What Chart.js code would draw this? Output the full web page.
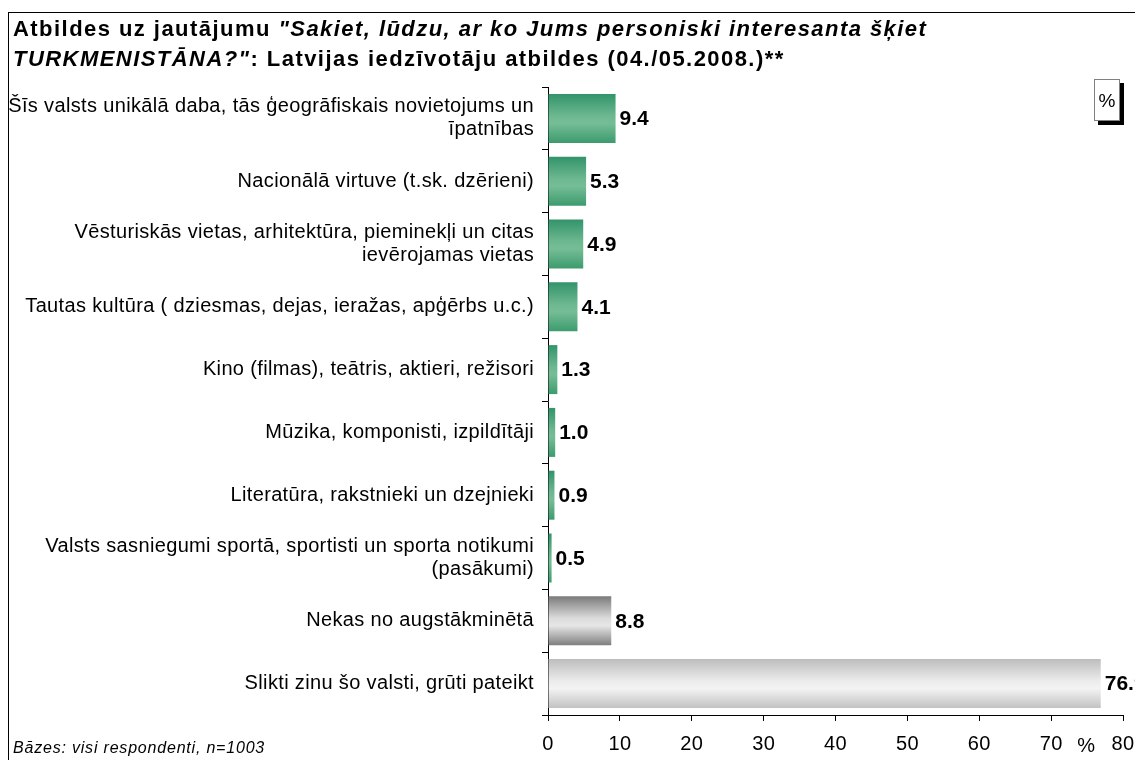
<!DOCTYPE html>
<html><head><meta charset="utf-8">
<script src="https://cdn.jsdelivr.net/npm/chart.js@4/dist/chart.umd.min.js"></script>
<style>
html,body{margin:0;padding:0;background:#fff;}
#wrap{position:relative;width:1135px;height:760px;overflow:hidden;font-family:"Liberation Sans",Arial,sans-serif;}
#frame{position:absolute;left:8px;top:12px;width:1200px;height:800px;border-left:1px solid #000;border-top:1px solid #000;}
#title{position:absolute;left:13px;top:14px;font-size:22px;font-weight:bold;line-height:30px;color:#000;letter-spacing:1.45px;white-space:nowrap;}
#foot{position:absolute;left:13px;top:739px;font-size:16px;font-style:italic;color:#000;letter-spacing:0.8px;}
#pbox{position:absolute;left:1094px;top:79px;width:24px;height:40px;border:1px solid #808080;background:#fff;box-shadow:4px 4px 0 #000;font-size:19px;text-align:center;line-height:42px;}
canvas{position:absolute;left:0;top:0;}
</style></head>
<body><div id="wrap">
<div id="frame"></div>
<canvas id="c" width="1135" height="760"></canvas>
<div id="title">Atbildes uz jautājumu <i>"Sakiet, lūdzu, ar ko Jums personiski interesanta šķiet</i><br><i>TURKMENISTĀNA?"</i>: Latvijas iedzīvotāju atbildes (04./05.2008.)**</div>
<div id="foot">Bāzes: visi respondenti, n=1003</div>
<div id="pbox">%</div>
</div>
<script>
const categories = [
  ["Šīs valsts unikālā daba, tās ģeogrāfiskais novietojums un", "īpatnības"],
  "Nacionālā virtuve (t.sk. dzērieni)",
  ["Vēsturiskās vietas, arhitektūra, pieminekļi un citas", "ievērojamas vietas"],
  "Tautas kultūra ( dziesmas, dejas, ieražas, apģērbs u.c.)",
  "Kino (filmas), teātris, aktieri, režisori",
  "Mūzika, komponisti, izpildītāji",
  "Literatūra, rakstnieki un dzejnieki",
  ["Valsts sasniegumi sportā, sportisti un sporta notikumi", "(pasākumi)"],
  "Nekas no augstākminētā",
  "Slikti zinu šo valsti, grūti pateikt"
];
const values = [9.4, 5.3, 4.9, 4.1, 1.3, 1.0, 0.9, 0.5, 8.8, 76.9];
const barKinds = ["green","green","green","green","green","green","green","green","gray","light"];
const xTicks = [0,10,20,30,40,50,60,70,80];

const palettes = {
  green: ["#32936a", "#6db890", "#76bd96", "#3c9b6e"],
  gray:  ["#7a7a7a", "#dcdcdc", "#e6e6e6", "#7e7e7e"],
  light: ["#bdbdbd", "#ececec", "#f3f3f3", "#c2c2c2"]
};
const BAR_FRAC = 0.78;
const FONT = '"Liberation Sans", Arial, sans-serif';
const LS = '0.35px';

function barFill(ctx) {
  const chart = ctx.chart;
  const ys = chart.scales && chart.scales.y;
  const p = palettes[barKinds[ctx.dataIndex]];
  if (!ys || !chart.chartArea) return p[1];
  const c = ys.getPixelForValue(ctx.dataIndex);
  const h = (chart.chartArea.bottom - chart.chartArea.top) / categories.length * BAR_FRAC;
  const g = chart.ctx.createLinearGradient(0, c - h/2, 0, c + h/2);
  g.addColorStop(0, p[0]);
  g.addColorStop(0.45, p[1]);
  g.addColorStop(0.6, p[2]);
  g.addColorStop(1, p[3]);
  return g;
}

const spacingPlugin = {
  id: 'spacing',
  beforeUpdate(chart) { chart.ctx.letterSpacing = LS; },
  beforeLayout(chart) { chart.ctx.letterSpacing = LS; },
  beforeDraw(chart) { chart.ctx.letterSpacing = LS; }
};

const labelPlugin = {
  id: 'vlabels',
  afterDatasetsDraw(chart) {
    const ctx = chart.ctx;
    const meta = chart.getDatasetMeta(0);
    ctx.save();
    ctx.letterSpacing = '0px';
    ctx.font = 'bold 21px ' + FONT;
    ctx.fillStyle = '#000';
    ctx.textBaseline = 'middle';
    ctx.textAlign = 'left';
    meta.data.forEach((el, i) => {
      ctx.fillText(values[i].toFixed(1), el.x + 4, el.y + 1);
    });
    const xs = chart.scales.x;
    ctx.font = '20px ' + FONT;
    ctx.textAlign = 'center';
    ctx.fillText('%', (xs.getPixelForValue(70) + xs.getPixelForValue(80)) / 2 - 1, 746);
    ctx.restore();
  }
};

new Chart(document.getElementById('c'), {
  type: 'bar',
  data: {
    labels: categories,
    datasets: [{
      data: values,
      backgroundColor: barFill,
      borderWidth: 0,
      barPercentage: BAR_FRAC,
      categoryPercentage: 1.0
    }]
  },
  options: {
    indexAxis: 'y',
    responsive: false,
    animation: false,
    events: [],
    layout: { padding: { top: 87, right: 12, bottom: 0, left: 0 } },
    plugins: { legend: { display: false }, tooltip: { enabled: false }, title: { display: false } },
    scales: {
      x: {
        min: 0, max: 80,
        afterBuildTicks(scale) { scale.ticks = xTicks.map(v => ({ value: v })); },
        afterFit(scale) { scale.height = 45; scale.paddingRight = 0; scale.paddingLeft = 0; },
        border: { color: '#000', width: 1 },
        grid: { drawOnChartArea: false, drawTicks: true, tickLength: 6, color: '#000' },
        ticks: { color: '#000', font: { family: FONT, size: 20 }, padding: 11, maxRotation: 0 }
      },
      y: {
        afterFit(scale) { scale.width = 548; scale.paddingTop = 0; scale.paddingBottom = 0; },
        border: { color: '#000', width: 1 },
        grid: { drawOnChartArea: false, drawTicks: true, tickLength: 6, color: '#000', offset: true },
        ticks: { color: '#000', font: { family: FONT, size: 20, lineHeight: 1.15 }, padding: 8, autoSkip: false }
      }
    }
  },
  plugins: [spacingPlugin, labelPlugin]
});
</script>
</body></html>
